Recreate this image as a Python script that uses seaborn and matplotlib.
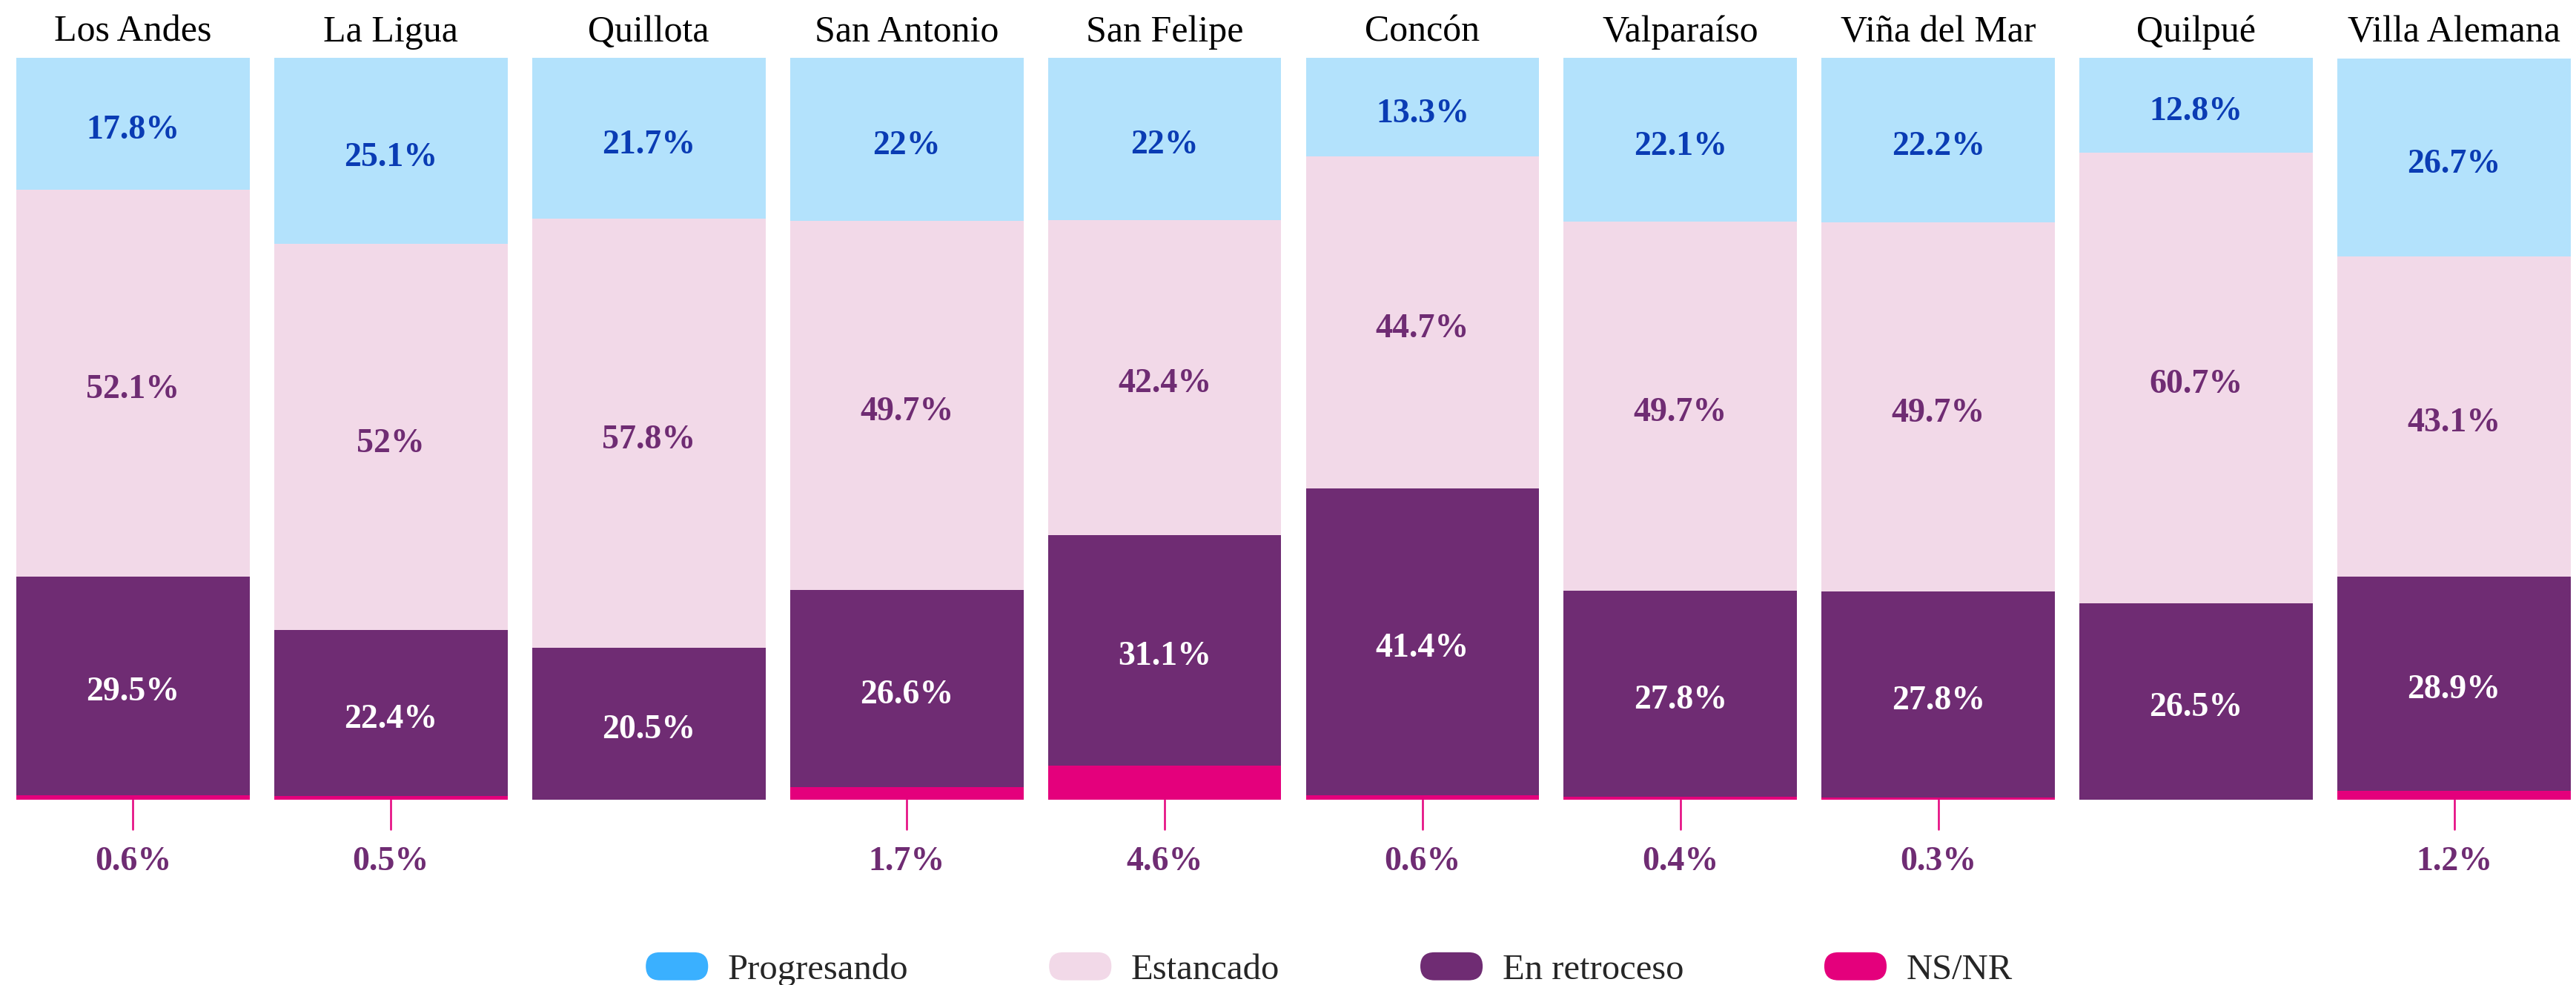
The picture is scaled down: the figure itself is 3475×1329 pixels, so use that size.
import numpy as np
import pandas as pd
import seaborn as sns
import matplotlib.pyplot as plt
import matplotlib.patches as mpatches
from matplotlib.legend_handler import HandlerPatch

# Values (percent)
comunas = ["Los Andes", "La Ligua", "Quillota", "San Antonio", "San Felipe",
           "Concón", "Valparaíso", "Viña del Mar", "Quilpué", "Villa Alemana"]
progresando = [17.8, 25.1, 21.7, 22.0, 22.0, 13.3, 22.1, 22.2, 12.8, 26.7]
estancado = [52.1, 52.0, 57.8, 49.7, 42.4, 44.7, 49.7, 49.7, 60.7, 43.1]
retroceso = [29.5, 22.4, 20.5, 26.6, 31.1, 41.4, 27.8, 27.8, 26.5, 28.9]
nsnr = [0.6, 0.5, 0.0, 1.7, 4.6, 0.6, 0.4, 0.3, 0.0, 1.2]

categorias = ["Progresando", "Estancado", "En retroceso", "NS/NR"]
bar_colors = ["#b3e2fc", "#f2d9e8", "#6f2c73", "#e4007c"]
legend_colors = ["#3ab0ff", "#f2d9e8", "#6f2c73", "#e4007c"]
label_colors = ["#0a3cb4", "#6f2c73", "white"]

df = pd.DataFrame({"comuna": comunas, "Progresando": progresando,
                   "Estancado": estancado, "En retroceso": retroceso,
                   "NS/NR": nsnr})

# cumulative heights from the bottom (NS/NR at the base)
df["c_ns"] = df["NS/NR"]
df["c_ret"] = df["c_ns"] + df["En retroceso"]
df["c_est"] = df["c_ret"] + df["Estancado"]
df["c_pro"] = df["c_est"] + df["Progresando"]

sns.set_theme(style="white")
plt.rcParams["font.family"] = ["Liberation Serif", "DejaVu Serif"]

W, H = 3475, 1329
fig = plt.figure(figsize=(W / 100, H / 100), dpi=100)
ax = fig.add_axes([22 / W, 1 - 1079 / H, (3468 - 22) / W, (1079 - 78) / H])

bw = 0.905
# draw tallest first, overlap the shorter stacks on top
for col, color in zip(["c_pro", "c_est", "c_ret", "c_ns"], bar_colors):
    sns.barplot(data=df, x="comuna", y=col, order=comunas, color=color,
                width=bw, saturation=1, linewidth=0, errorbar=None, ax=ax)

ax.set_xlim(-bw / 2, len(comunas) - 1 + bw / 2)
ax.set_ylim(0, 100)
ax.set_axis_off()

for i, row in df.iterrows():
    # column titles
    ax.text(i, 102.2, row["comuna"], ha="center", va="baseline",
            fontsize=36, color="black", clip_on=False)
    segs = [(row["c_est"], row["c_pro"], row["Progresando"]),
            (row["c_ret"], row["c_est"], row["Estancado"]),
            (row["c_ns"], row["c_ret"], row["En retroceso"])]
    for (lo, hi, v), lc in zip(segs, label_colors):
        ax.text(i, (lo + hi) / 2 - 0.4, f"{v:g}%", ha="center",
                va="center_baseline", fontsize=33, fontweight="bold", color=lc)
    if row["NS/NR"] > 0:
        ax.plot([i, i], [0, -4.0], color="#e4007c", lw=1.8, clip_on=False)
        ax.text(i, -9.5, f"{row['NS/NR']:g}%", ha="center", va="baseline",
                fontsize=33, fontweight="bold", color="#6f2c73", clip_on=False)


def pill(legend, orig_handle, xdescent, ydescent, width, height, fontsize):
    return mpatches.FancyBboxPatch(
        (-xdescent, -ydescent), width, height,
        boxstyle=f"round,pad=0,rounding_size={height / 2}")


handles = [mpatches.Patch(facecolor=c, edgecolor="none", label=l)
           for c, l in zip(legend_colors, categorias)]
fig.legend(handles=handles, loc="center", bbox_to_anchor=(0.516, 0.016),
           ncol=4, frameon=False, fontsize=35, handlelength=1.73,
           handleheight=0.82, handletextpad=0.55, columnspacing=3.9,
           handler_map={mpatches.Patch: HandlerPatch(patch_func=pill)})

fig.savefig("out.png", dpi=100)
